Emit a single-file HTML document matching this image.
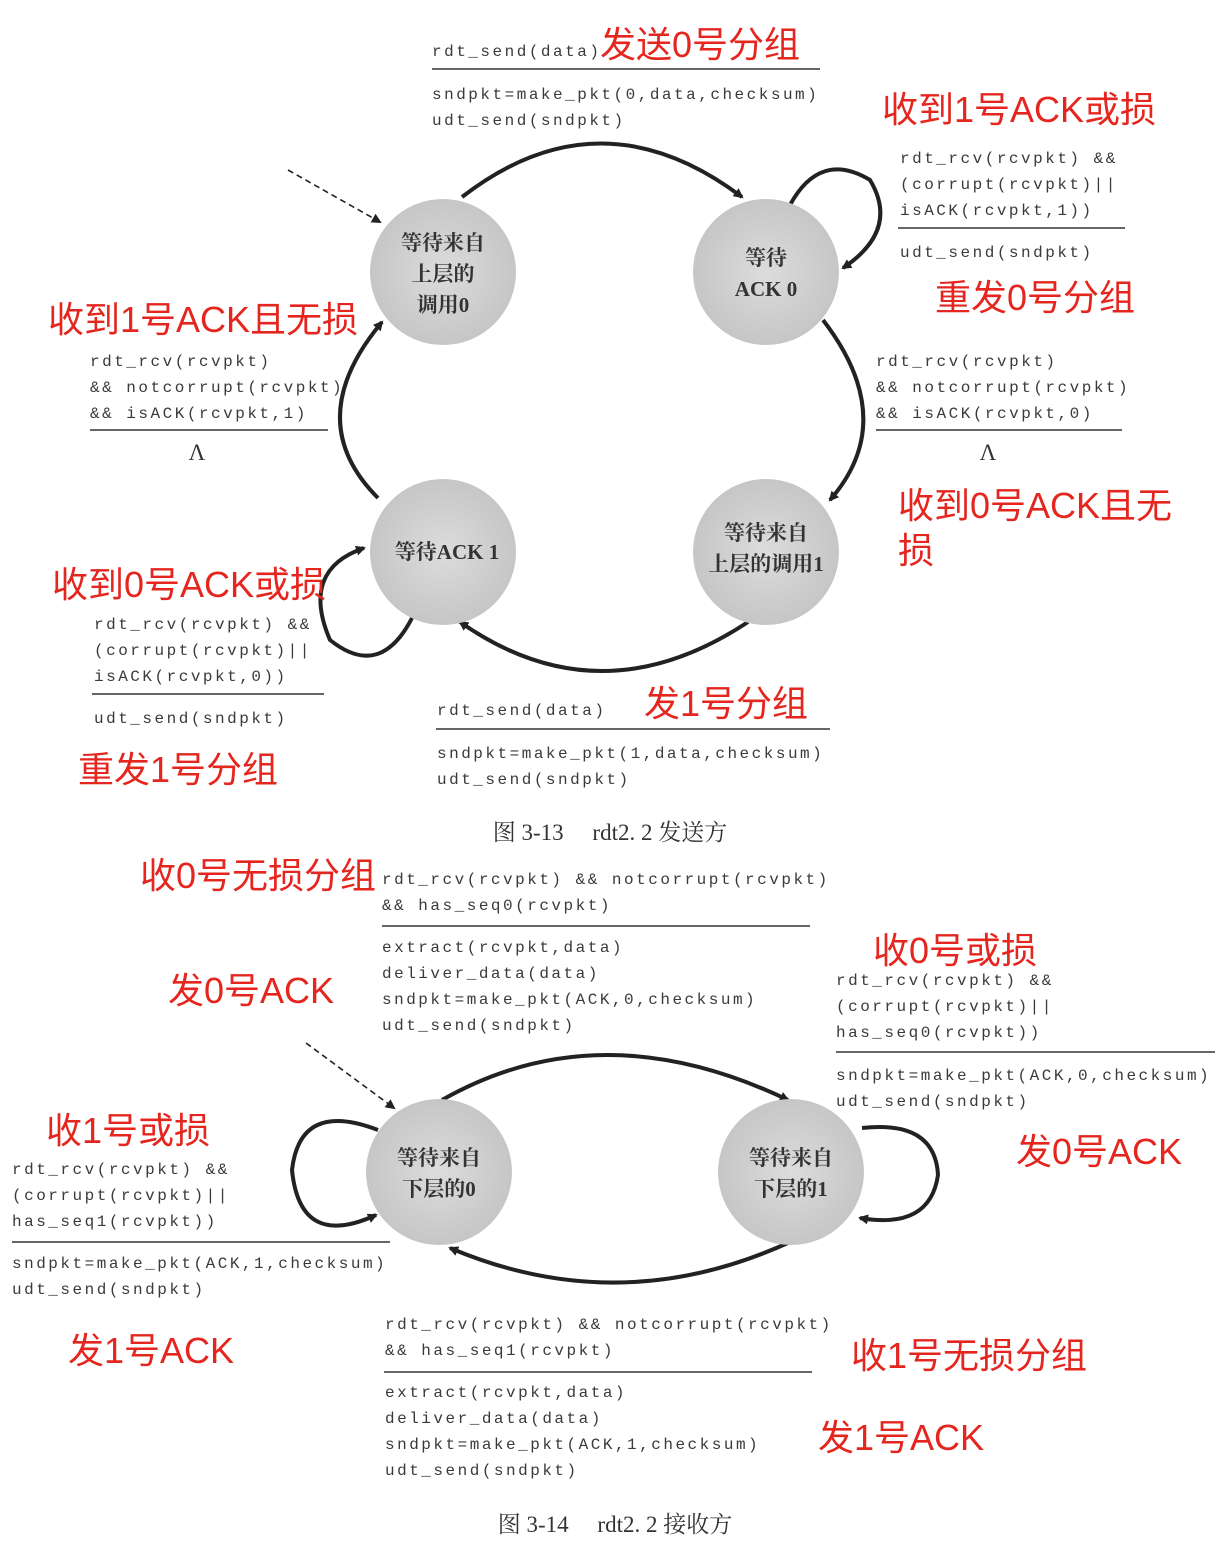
<!DOCTYPE html>
<html><head><meta charset="utf-8"><style>
html,body{margin:0;padding:0;background:#fff}
svg{display:block}
.m{font-family:"Liberation Mono","DejaVu Sans Mono",monospace;font-size:16px;letter-spacing:2.5px;fill:#3a3a3a}
.r{font-family:"Liberation Sans","Noto Sans CJK SC",sans-serif;font-size:36px;fill:#e5261f}
.s{font-family:"Liberation Serif","Noto Serif CJK SC",serif;font-size:21px;font-weight:bold;fill:#333;text-anchor:middle}
.c{font-family:"Liberation Serif","Noto Serif CJK SC",serif;font-size:23px;fill:#333;text-anchor:middle}
</style></head><body>
<svg width="1227" height="1547" viewBox="0 0 1227 1547" xmlns="http://www.w3.org/2000/svg">
<defs>
<radialGradient id="g" cx="50%" cy="50%" r="50%">
<stop offset="0" stop-color="#dcdcdc"/><stop offset="1" stop-color="#c6c6c6"/></radialGradient>
<marker id="a" markerWidth="10" markerHeight="10" refX="8" refY="5" orient="auto" markerUnits="userSpaceOnUse">
<path d="M0,0 L10,5 L0,10 z" fill="#222"/></marker>
</defs>
<g stroke="#222" stroke-width="4" fill="none">
<path d="M462,197 Q600,90 742,197" marker-end="url(#a)"/>
<path d="M823,320 Q900,420 830,500" marker-end="url(#a)"/>
<path d="M748,622 Q600,720 460,622" marker-end="url(#a)"/>
<path d="M378,498 Q300,420 382,322" marker-end="url(#a)"/>
<path d="M790,205 Q820,150 870,180 Q900,230 843,268" marker-end="url(#a)"/>
<path d="M412,618 Q380,680 330,640 Q300,570 364,548" marker-end="url(#a)"/>
<path d="M442,1100 Q600,1010 788,1100" marker-end="url(#a)"/>
<path d="M790,1242 Q620,1320 450,1248" marker-end="url(#a)"/>
<path d="M378,1130 Q300,1100 292,1170 Q300,1250 376,1215" marker-end="url(#a)"/>
<path d="M862,1128 Q935,1120 938,1175 Q930,1230 860,1218" marker-end="url(#a)"/>
</g>
<g stroke="#222" stroke-width="1.6" stroke-dasharray="6,4" fill="none">
<path d="M288,170 L380,222" marker-end="url(#a)"/>
<path d="M306,1043 L394,1108" marker-end="url(#a)"/>
</g>
<g fill="url(#g)">
<circle cx="443" cy="272" r="73"/><circle cx="766" cy="272" r="73"/>
<circle cx="443" cy="552" r="73"/><circle cx="766" cy="552" r="73"/>
<circle cx="439" cy="1172" r="73"/><circle cx="791" cy="1172" r="73"/>
</g>
<text class="s" x="443" y="250">等待来自</text><text class="s" x="443" y="281">上层的</text><text class="s" x="443" y="312">调用0</text>
<text class="s" x="766" y="265">等待</text><text class="s" x="766" y="296">ACK 0</text>
<text class="s" x="447" y="559">等待ACK 1</text>
<text class="s" x="766" y="540">等待来自</text><text class="s" x="766" y="571">上层的调用1</text>
<text class="s" x="439" y="1165">等待来自</text><text class="s" x="439" y="1196">下层的0</text>
<text class="s" x="791" y="1165">等待来自</text><text class="s" x="791" y="1196">下层的1</text>
<g stroke="#333" stroke-width="1.5">
<line x1="432" y1="69" x2="820" y2="69"/>
<line x1="898" y1="228" x2="1125" y2="228"/>
<line x1="876" y1="430" x2="1122" y2="430"/>
<line x1="90" y1="430" x2="328" y2="430"/>
<line x1="92" y1="694" x2="324" y2="694"/>
<line x1="436" y1="729" x2="830" y2="729"/>
<line x1="382" y1="926" x2="810" y2="926"/>
<line x1="836" y1="1052" x2="1215" y2="1052"/>
<line x1="12" y1="1242" x2="390" y2="1242"/>
<line x1="384" y1="1372" x2="812" y2="1372"/>
</g>
<text class="m" x="432" y="56">rdt_send(data)</text>
<text class="m" x="432" y="99">sndpkt=make_pkt(0,data,checksum)</text>
<text class="m" x="432" y="125">udt_send(sndpkt)</text>
<text class="m" x="900" y="163">rdt_rcv(rcvpkt) &amp;&amp;</text>
<text class="m" x="900" y="189">(corrupt(rcvpkt)||</text>
<text class="m" x="900" y="215">isACK(rcvpkt,1))</text>
<text class="m" x="900" y="257">udt_send(sndpkt)</text>
<text class="m" x="876" y="366">rdt_rcv(rcvpkt)</text>
<text class="m" x="876" y="392">&amp;&amp; notcorrupt(rcvpkt)</text>
<text class="m" x="876" y="418">&amp;&amp; isACK(rcvpkt,0)</text>
<text class="c" x="988" y="460">Λ</text>
<text class="m" x="90" y="366">rdt_rcv(rcvpkt)</text>
<text class="m" x="90" y="392">&amp;&amp; notcorrupt(rcvpkt)</text>
<text class="m" x="90" y="418">&amp;&amp; isACK(rcvpkt,1)</text>
<text class="c" x="197" y="460">Λ</text>
<text class="m" x="94" y="629">rdt_rcv(rcvpkt) &amp;&amp;</text>
<text class="m" x="94" y="655">(corrupt(rcvpkt)||</text>
<text class="m" x="94" y="681">isACK(rcvpkt,0))</text>
<text class="m" x="94" y="723">udt_send(sndpkt)</text>
<text class="m" x="437" y="715">rdt_send(data)</text>
<text class="m" x="437" y="758">sndpkt=make_pkt(1,data,checksum)</text>
<text class="m" x="437" y="784">udt_send(sndpkt)</text>
<text class="c" x="610" y="840">图 3-13　  rdt2. 2 发送方</text>
<text class="m" x="382" y="884">rdt_rcv(rcvpkt) &amp;&amp; notcorrupt(rcvpkt)</text>
<text class="m" x="382" y="910">&amp;&amp; has_seq0(rcvpkt)</text>
<text class="m" x="382" y="952">extract(rcvpkt,data)</text>
<text class="m" x="382" y="978">deliver_data(data)</text>
<text class="m" x="382" y="1004">sndpkt=make_pkt(ACK,0,checksum)</text>
<text class="m" x="382" y="1030">udt_send(sndpkt)</text>
<text class="m" x="836" y="985">rdt_rcv(rcvpkt) &amp;&amp;</text>
<text class="m" x="836" y="1011">(corrupt(rcvpkt)||</text>
<text class="m" x="836" y="1037">has_seq0(rcvpkt))</text>
<text class="m" x="836" y="1080">sndpkt=make_pkt(ACK,0,checksum)</text>
<text class="m" x="836" y="1106">udt_send(sndpkt)</text>
<text class="m" x="12" y="1174">rdt_rcv(rcvpkt) &amp;&amp;</text>
<text class="m" x="12" y="1200">(corrupt(rcvpkt)||</text>
<text class="m" x="12" y="1226">has_seq1(rcvpkt))</text>
<text class="m" x="12" y="1268">sndpkt=make_pkt(ACK,1,checksum)</text>
<text class="m" x="12" y="1294">udt_send(sndpkt)</text>
<text class="m" x="385" y="1329">rdt_rcv(rcvpkt) &amp;&amp; notcorrupt(rcvpkt)</text>
<text class="m" x="385" y="1355">&amp;&amp; has_seq1(rcvpkt)</text>
<text class="m" x="385" y="1397">extract(rcvpkt,data)</text>
<text class="m" x="385" y="1423">deliver_data(data)</text>
<text class="m" x="385" y="1449">sndpkt=make_pkt(ACK,1,checksum)</text>
<text class="m" x="385" y="1475">udt_send(sndpkt)</text>
<text class="c" x="615" y="1532">图 3-14　  rdt2. 2 接收方</text>
<text class="r" x="600" y="57">发送0号分组</text>
<text class="r" x="882" y="122">收到1号ACK或损</text>
<text class="r" x="935" y="310">重发0号分组</text>
<text class="r" x="48" y="332">收到1号ACK且无损</text>
<text class="r" x="898" y="518">收到0号ACK且无</text>
<text class="r" x="898" y="563">损</text>
<text class="r" x="52" y="597">收到0号ACK或损</text>
<text class="r" x="644" y="716">发1号分组</text>
<text class="r" x="78" y="782">重发1号分组</text>
<text class="r" x="140" y="888">收0号无损分组</text>
<text class="r" x="873" y="963">收0号或损</text>
<text class="r" x="168" y="1003">发0号ACK</text>
<text class="r" x="46" y="1143">收1号或损</text>
<text class="r" x="1016" y="1164">发0号ACK</text>
<text class="r" x="68" y="1363">发1号ACK</text>
<text class="r" x="851" y="1368">收1号无损分组</text>
<text class="r" x="818" y="1450">发1号ACK</text>
</svg>
</body></html>
